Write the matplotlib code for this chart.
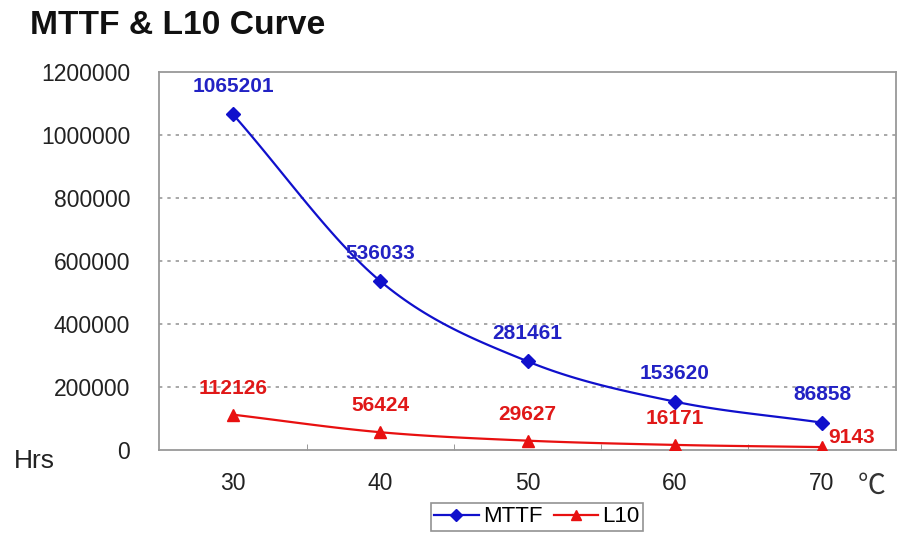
import numpy as np
import matplotlib
matplotlib.use("Agg")
import matplotlib.pyplot as plt
from matplotlib.lines import Line2D

plt.rcParams['font.family'] = ['Liberation Sans', 'DejaVu Sans']

temps = [30, 40, 50, 60, 70]
mttf = [1065201, 536033, 281461, 153620, 86858]
l10 = [112126, 56424, 29627, 16171, 9143]
yticks = [0, 200000, 400000, 600000, 800000, 1000000, 1200000]

BLUE = '#1010CC'
RED = '#E81010'
BLUE_T = '#2222C4'
RED_T = '#E01818'


def smooth(xs, ys, n=30):
    # Catmull-Rom spline (like Excel smoothed line) for rendering only
    xs = np.asarray(xs, float); ys = np.asarray(ys, float)
    px = np.concatenate([[2*xs[0]-xs[1]], xs, [2*xs[-1]-xs[-2]]])
    py = np.concatenate([[2*ys[0]-ys[1]], ys, [2*ys[-1]-ys[-2]]])
    ox, oy = [], []
    for i in range(1, len(px)-2):
        t = np.linspace(0, 1, n, endpoint=(i == len(px)-3))
        for arr, out in ((px, ox), (py, oy)):
            p0, p1, p2, p3 = arr[i-1], arr[i], arr[i+1], arr[i+2]
            out.extend(0.5*((2*p1) + (-p0+p2)*t + (2*p0-5*p1+4*p2-p3)*t**2 + (-p0+3*p1-3*p2+p3)*t**3))
    return np.array(ox), np.array(oy)

fig = plt.figure(figsize=(9.06, 5.35), dpi=100)
ax = fig.add_axes([0.176, 0.1589, 0.8125, 0.7065])

x = np.arange(len(temps))
sx, sy = smooth(x, mttf)
ax.plot(sx, sy, color=BLUE, lw=1.6, zorder=3)
ax.plot(x, mttf, ls='none', marker='D', ms=7, color=BLUE, zorder=4)
sx2, sy2 = smooth(x, l10)
ax.plot(sx2, sy2, color=RED, lw=1.6, zorder=3)
ax.plot(x, l10, ls='none', marker='^', ms=8, color=RED, zorder=4)

for i, v in enumerate(mttf):
    ax.annotate(str(v), (x[i], v), xytext=(0, 20), textcoords='offset points',
                ha='center', va='center', fontsize=15, fontweight='bold', color=BLUE_T)
for i, v in enumerate(l10):
    if i == len(l10) - 1:
        ax.annotate(str(v), (x[i], v), xytext=(21, 7), textcoords='offset points',
                    ha='center', va='center', fontsize=15, fontweight='bold', color=RED_T)
    else:
        ax.annotate(str(v), (x[i], v), xytext=(0, 19), textcoords='offset points',
                    ha='center', va='center', fontsize=15, fontweight='bold', color=RED_T)

ax.set_xlim(-0.5, len(temps) - 0.5)
ax.set_ylim(0, 1200000)
ax.set_yticks(yticks)
ax.set_yticklabels([str(t) for t in yticks])
ax.set_xticks(x)
ax.set_xticklabels([str(t) for t in temps])
ax.tick_params(axis='both', length=0, labelsize=16.5, colors='#222222')
ax.tick_params(axis='y', pad=21)
ax.tick_params(axis='x', pad=16)
ax.set_xticks(np.arange(0.5, len(temps) - 1, 1), minor=True)
ax.tick_params(axis='x', which='minor', direction='in', length=4, color='#888888')

for yv in yticks[1:-1]:
    ax.axhline(yv, color='#999999', ls=(0, (2, 3)), lw=1.2, zorder=1)
for s in ax.spines.values():
    s.set_color('#999999')
    s.set_linewidth(1.3)

fig.text(30/906, 1 - 26/535, 'MTTF & L10 Curve', fontsize=24.2, fontweight='bold',
         ha='left', va='center', color='#111111')
fig.text(14/906, 1 - 461/535, 'Hrs', fontsize=19, ha='left', va='center', color='#222222')
fig.text(872/906, 1 - 486/535, '℃', fontsize=20, ha='center', va='center', color='#333333',
         family=['Noto Sans CJK SC', 'DejaVu Sans'])

handles = [Line2D([], [], color=BLUE, marker='D', ms=6, lw=1.6),
           Line2D([], [], color=RED, marker='^', ms=7, lw=1.6)]
leg = fig.legend(handles, ['MTTF', 'L10'], loc='center', bbox_to_anchor=(537/906, 1 - 517/535),
                 ncol=2, fontsize=16, frameon=True, fancybox=False, handlelength=2.0,
                 handletextpad=0.2, columnspacing=0.5, borderpad=0.15, borderaxespad=0)
leg.get_frame().set_edgecolor('#777777')
leg.get_frame().set_linewidth(1.2)

fig.savefig('out.png', dpi=100)
